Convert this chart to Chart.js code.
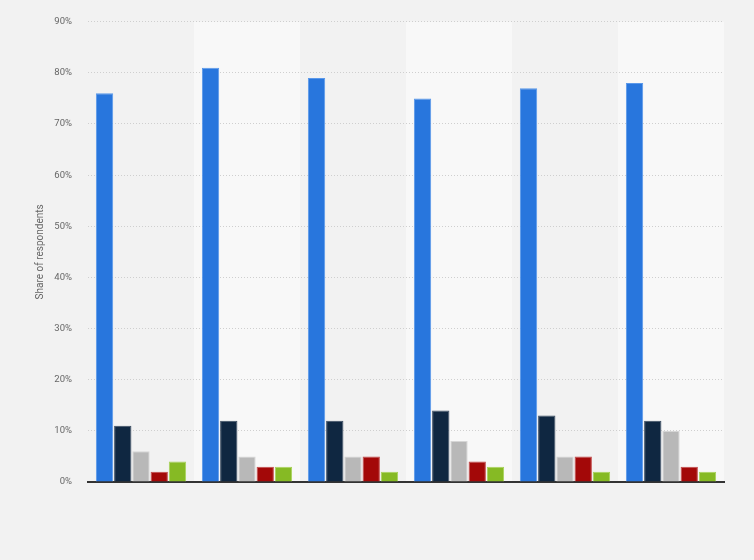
<!DOCTYPE html>
<html>
<head>
<meta charset="utf-8">
<script src="https://cdn.jsdelivr.net/npm/chart.js@4"></script>
<style>
  html, body { margin: 0; padding: 0; background: #f2f2f2; }
  #wrap { width: 754px; height: 560px; }
</style>
</head>
<body>
<div id="wrap"><canvas id="chart"></canvas></div>
<script>
const categories = ["", "", "", "", "", ""];
const seriesA = [76, 81, 79, 75, 77, 78];
const seriesB = [11, 12, 12, 14, 13, 12];
const seriesC = [6, 5, 5, 8, 5, 10];
const seriesD = [2, 3, 5, 4, 5, 3];
const seriesE = [4, 3, 2, 3, 2, 2];
const yTicks = [0, 10, 20, 30, 40, 50, 60, 70, 80, 90];

// alternating column bands behind everything
const bandPlugin = {
  id: "bands",
  beforeDraw(chart) {
    const { ctx, chartArea, scales } = chart;
    const x = scales.x;
    ctx.save();
    categories.forEach((c, i) => {
      if (i % 2 === 1) {
        const mid = x.getPixelForValue(i);
        const half = (x.getPixelForValue(1) - x.getPixelForValue(0)) / 2;
        ctx.fillStyle = "#f8f8f8";
        ctx.fillRect(mid - half, chartArea.top, half * 2, chartArea.bottom - chartArea.top);
      }
    });
    ctx.restore();
  }
};

function ds(data, color, border) {
  return {
    data: data,
    backgroundColor: color,
    borderColor: border,
    borderWidth: 1,
    categoryPercentage: 0.86,
    barPercentage: 0.95
  };
}

new Chart(document.getElementById("chart"), {
  type: "bar",
  data: {
    labels: categories,
    datasets: [
      ds(seriesA, "#2876dd", "#5a98ea"),
      ds(seriesB, "#0f2741", "#3a4c60"),
      ds(seriesC, "#b8b8b8", "#d6d6d6"),
      ds(seriesD, "#a30808", "#c14848"),
      ds(seriesE, "#86ba24", "#a8d35a")
    ]
  },
  plugins: [bandPlugin],
  options: {
    responsive: true,
    maintainAspectRatio: false,
    animation: false,
    layout: { padding: { top: 14, right: 30, bottom: 70, left: 30 } },
    plugins: {
      legend: { display: false },
      tooltip: { enabled: false }
    },
    scales: {
      x: {
        grid: { display: false },
        border: { color: "#333333", width: 2 },
        ticks: { display: false }
      },
      y: {
        min: 0,
        max: 90,
        afterBuildTicks(axis) {
          axis.ticks = yTicks.map(v => ({ value: v }));
        },
        afterFit(axis) { axis.width = 58; },
        grid: {
          color: "#cfcfcf",
          lineWidth: 1,
          drawTicks: false
        },
        border: { display: false, dash: [1, 2] },
        ticks: {
          color: "#666666",
          padding: 16,
          font: { family: "Roboto", size: 9.5 },
          callback: v => v + "%"
        },
        title: {
          display: true,
          text: "Share of respondents",
          color: "#666666",
          font: { family: "Roboto", size: 10 },
          padding: { bottom: 14 }
        }
      }
    }
  }
});
</script>
</body>
</html>
